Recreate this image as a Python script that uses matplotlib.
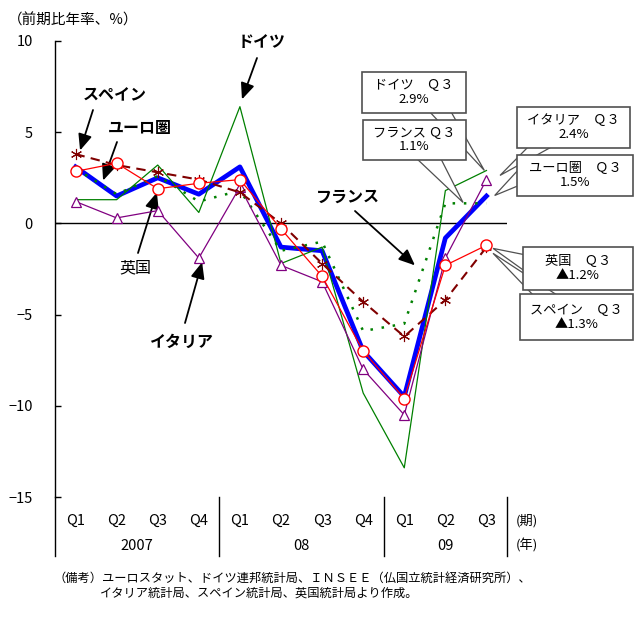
import matplotlib
matplotlib.use('Agg')
import matplotlib.pyplot as plt
from matplotlib.patches import Rectangle, Polygon
from matplotlib.transforms import IdentityTransform

plt.rcParams['font.family'] = ['Noto Sans CJK JP', 'DejaVu Sans']

# data (annualised q/q growth, %)
quarters = ['Q1', 'Q2', 'Q3', 'Q4', 'Q1', 'Q2', 'Q3', 'Q4', 'Q1', 'Q2', 'Q3']
years = ['2007', '08', '09']
year_pos = [1.5, 5.5, 9.0]
euro = [3.1, 1.5, 2.5, 1.6, 3.1, -1.3, -1.5, -7.0, -9.5, -0.8, 1.5]
germany = [1.3, 1.3, 3.2, 0.6, 6.4, -2.2, -1.3, -9.3, -13.4, 1.8, 2.9]
france = [3.0, 1.6, 2.6, 1.2, 1.8, -1.5, -1.0, -5.9, -5.5, 1.1, 1.1]
italy = [1.2, 0.3, 0.7, -1.9, 2.0, -2.3, -3.2, -8.0, -10.5, -1.9, 2.4]
uk = [2.85, 3.3, 1.9, 2.2, 2.4, -0.3, -2.9, -7.0, -9.6, -2.3, -1.2]
spain = [3.8, 3.2, 2.8, 2.4, 1.7, 0.0, -2.2, -4.3, -6.2, -4.2, -1.3]

W, H = 641, 619


def fp(x, y):
    # image pixel (top-left origin) -> figure pixels
    return (x, H - y)


fig = plt.figure(figsize=(W / 100, H / 100), dpi=100)
ax = fig.add_axes([55 / W, (H - 497) / H, 452 / W, 456 / H])
ax.set_xlim(-0.5, 10.5)
ax.set_ylim(-15, 10)

x = list(range(len(quarters)))
ax.plot(x, euro, color='#0000FF', lw=3.4, zorder=3)
ax.plot(x, germany, color='#008000', lw=0.9, zorder=4)
ax.plot(x, france, color='#008000', lw=1.8, ls=(0, (1, 3.5)), zorder=4)
ax.plot(x, italy, color='#800080', lw=0.9, marker='^', ms=7, mfc='white',
        mec='#800080', mew=0.9, zorder=5)
ax.plot(x, spain, color='#800000', lw=1.5, ls=(0, (4.5, 3)), marker=(6, 2, 0),
        ms=8, mec='#800000', mew=0.8, zorder=5)
ax.plot(x, uk, color='#FF0000', lw=0.9, marker='o', ms=8, mfc='white',
        mec='#FF0000', mew=1.0, zorder=6)

ax.axhline(0, color='black', lw=1, zorder=2)

for s in ['top', 'right', 'bottom']:
    ax.spines[s].set_visible(False)
ax.spines['left'].set_linewidth(1)
ax.set_xticks([])
ax.set_yticks([10, 5, 0, -5, -10, -15])
ax.tick_params(axis='y', direction='in', length=4.5, width=1, pad=16,
               labelsize=10.5)

# category area under the plot
ax.plot([0, 0], [0, -0.129], transform=ax.transAxes, color='black', lw=1,
        clip_on=False)
for sx in [3.5, 7.5, 10.5]:
    ax.plot([sx, sx], [0, -0.129], transform=ax.get_xaxis_transform(),
            color='black', lw=1, clip_on=False)
for i, q in enumerate(quarters):
    ax.text(i, -0.053, q, transform=ax.get_xaxis_transform(), ha='center',
            va='center', fontsize=10.5)
for p, yr in zip(year_pos, years):
    ax.text(p, -0.107, yr, transform=ax.get_xaxis_transform(), ha='center',
            va='center', fontsize=10.5)
fig.text(*fp(527, 521), '(期)', transform=IdentityTransform(), ha='center',
         va='center', fontsize=9.5)
fig.text(*fp(527, 546), '(年)', transform=IdentityTransform(), ha='center',
         va='center', fontsize=9.5)

fig.text(*fp(8, 20), '（前期比年率、%）', transform=IdentityTransform(),
         ha='left', va='center', fontsize=10.5)

# country labels with arrows
labels = [
    ('ドイツ', (262, 42), (257, 58), (4.05, 6.8), 'bold'),
    ('スペイン', (115, 95), (93, 110), (0.11, 4.0), 'bold'),
    ('ユーロ圏', (140, 128), (117, 142), (0.67, 2.35), 'bold'),
    ('英国', (135, 268), (138, 253), (1.98, 1.7), 'normal'),
    ('イタリア', (182, 342), (185, 323), (3.08, -2.13), 'bold'),
    ('フランス', (348, 197), (355, 211), (8.26, -2.3), 'bold'),
]
for txt, tpos, tail, tip, wt in labels:
    fig.text(*fp(*tpos), txt, transform=IdentityTransform(), ha='center',
             va='center', fontsize=11.5, fontweight=wt)
    ax.annotate('', xy=tip, xycoords='data', xytext=fp(*tail),
                textcoords='figure pixels', annotation_clip=False,
                arrowprops=dict(arrowstyle='-|>,head_length=0.7,head_width=0.3',
                                color='black', lw=1.3, mutation_scale=14,
                                shrinkA=0, shrinkB=0))

# callout boxes for latest quarter
callouts = [
    ('ドイツ　Ｑ３\n2.9%', (362, 72, 466, 113), [(428, 110), (450, 110)], (9.95, 2.9)),
    ('フランス Ｑ３\n1.1%', (363, 120, 466, 160), [(415, 157), (440, 157)], (9.43, 1.15)),
    ('イタリア　Ｑ３\n2.4%', (517, 107, 630, 148), [(530, 145), (555, 145)], (10.33, 2.63)),
    ('ユーロ圏　Ｑ３\n1.5%', (517, 155, 633, 196), [(520, 168), (520, 185)], (10.2, 1.53)),
    ('スペイン　Ｑ３\n▲1.3%', (520, 294, 633, 340), [(535, 297), (560, 297)], (10.16, -1.64)),
    ('英国　Ｑ３\n▲1.2%', (523, 247, 633, 290), [(526, 255), (526, 272)], (10.16, -1.37)),
]
fig.canvas.draw()
for txt, box, base, tip in callouts:
    tx, ty = ax.transData.transform(tip)
    pts = [fp(*base[0]), fp(*base[1]), (tx, ty)]
    fig.add_artist(Polygon(pts, closed=True, fc='white', ec='#505050', lw=0.9,
                           transform=IdentityTransform(), zorder=5))
for txt, box, base, tip in callouts:
    x0, y0, x1, y1 = box
    fig.add_artist(Rectangle(fp(x0, y1), x1 - x0, y1 - y0, fc='white',
                             ec='#505050', lw=1.2,
                             transform=IdentityTransform(), zorder=6))
    fig.text(*fp((x0 + x1) / 2, (y0 + y1) / 2), txt,
             transform=IdentityTransform(), ha='center', va='center',
             fontsize=9.5, linespacing=1.1, zorder=7)

# source note
fig.text(*fp(54, 578), '（備考）ユーロスタット、ドイツ連邦統計局、ＩＮＳＥＥ（仏国立統計経済研究所）、',
         transform=IdentityTransform(), ha='left', va='center', fontsize=8.8)
fig.text(*fp(100, 593), 'イタリア統計局、スペイン統計局、英国統計局より作成。',
         transform=IdentityTransform(), ha='left', va='center', fontsize=8.8)

fig.savefig('out.png', dpi=100)
